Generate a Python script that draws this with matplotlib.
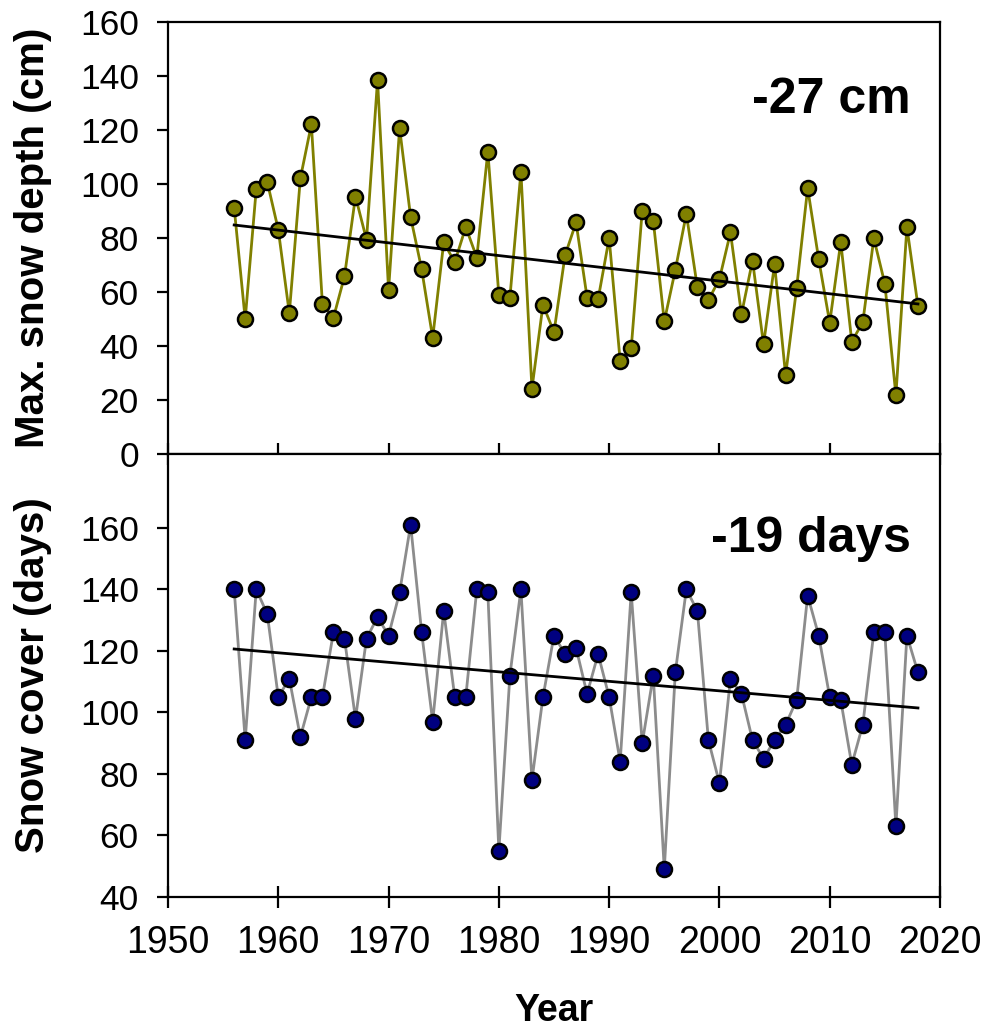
import numpy as np
import matplotlib
matplotlib.use("Agg")
import matplotlib.pyplot as plt

plt.rcParams['font.family'] = ['Liberation Sans', 'DejaVu Sans']

years = list(range(1956, 2019))

snow_depth = [91.2, 49.9, 98.0, 100.7, 83.0, 52.1, 102.0, 122.0, 55.6, 50.4,
              65.7, 95.3, 79.3, 138.4, 60.7, 120.6, 87.7, 68.4, 43.0, 78.3,
              71.0, 84.0, 72.7, 111.9, 58.8, 57.8, 104.4, 24.2, 55.2, 45.1,
              73.5, 85.7, 57.9, 57.3, 79.9, 34.4, 39.1, 90.1, 86.4, 49.1,
              68.1, 88.9, 61.7, 57.0, 64.7, 82.0, 51.7, 71.6, 40.6, 70.2,
              29.1, 61.4, 98.4, 72.1, 48.6, 78.4, 41.6, 48.8, 79.8, 63.0,
              21.7, 84.0, 54.8]

snow_cover = [140, 91, 140, 132, 105, 111, 92, 105, 105, 126,
              124, 98, 124, 131, 125, 139, 161, 126, 97, 133,
              105, 105, 140, 139, 55, 112, 140, 78, 105, 125,
              119, 121, 106, 119, 105, 84, 139, 90, 112, 49,
              113, 140, 133, 91, 77, 111, 106, 91, 85, 91,
              96, 104, 138, 125, 105, 104, 83, 96, 126, 126,
              63, 125, 113]

depth_label = "-27 cm"
cover_label = "-19 days"
x_ticks = [1950, 1960, 1970, 1980, 1990, 2000, 2010, 2020]
depth_ticks = [0, 20, 40, 60, 80, 100, 120, 140, 160]
cover_ticks = [40, 60, 80, 100, 120, 140, 160]

W, H = 987, 1029
fig = plt.figure(figsize=(W / 100, H / 100), dpi=100)

L, R = 168, 940
T1, B1 = 21.7, 454
T2, B2 = 454, 897
ax1 = fig.add_axes([L / W, 1 - B1 / H, (R - L) / W, (B1 - T1) / H])
ax2 = fig.add_axes([L / W, 1 - B2 / H, (R - L) / W, (B2 - T2) / H])

yrs = np.array(years, dtype=float)


def style(ax):
    for s in ax.spines.values():
        s.set_linewidth(1.6)
    ax.set_xlim(1950, 2020)
    ax.set_xticks(x_ticks)
    ax.tick_params(axis='x', direction='inout', length=16, width=1.6,
                   labelsize=27, pad=12)
    ax.tick_params(axis='y', direction='out', length=8, width=1.6,
                   labelsize=25.5, pad=13)


# top panel
ax1.plot(years, snow_depth, '-', color='#808000', lw=2.0, marker='o',
         ms=10.8, mfc='#808000', mec='black', mew=1.8, zorder=3)
c1 = np.polyfit(yrs, np.array(snow_depth), 1)
ax1.plot([years[0], years[-1]], np.polyval(c1, [years[0], years[-1]]),
         color='black', lw=2.0, zorder=4)
style(ax1)
ax1.set_ylim(0, 160)
ax1.set_yticks(depth_ticks)
ax1.tick_params(axis='x', labelbottom=False)

# bottom panel
ax2.plot(years, snow_cover, '-', color='#8c8c8c', lw=2.0, marker='o',
         ms=10.8, mfc='#000080', mec='black', mew=1.8, zorder=3)
c2 = np.polyfit(yrs, np.array(snow_cover, dtype=float), 1)
ax2.plot([years[0], years[-1]], np.polyval(c2, [years[0], years[-1]]),
         color='black', lw=2.0, zorder=4)
style(ax2)
ax2.set_ylim(40, 184)
ax2.set_yticks(cover_ticks)

fig.text(911 / W, 1 - 113 / H, depth_label, ha='right', va='baseline',
         fontsize=36, fontweight='bold')
fig.text(911 / W, 1 - 552 / H, cover_label, ha='right', va='baseline',
         fontsize=36, fontweight='bold')

fig.text(33 / W, 1 - 237.5 / H, "Max. snow depth (cm)", rotation=90,
         ha='center', va='center', fontsize=29, fontweight='bold')
fig.text(33 / W, 1 - 675.5 / H, "Snow cover (days)", rotation=90,
         ha='center', va='center', fontsize=29, fontweight='bold')
fig.text((L + R) / 2 / W, 1 - 1021 / H, "Year", ha='center',
         va='baseline', fontsize=27, fontweight='bold')

fig.savefig("out.png", dpi=100)
